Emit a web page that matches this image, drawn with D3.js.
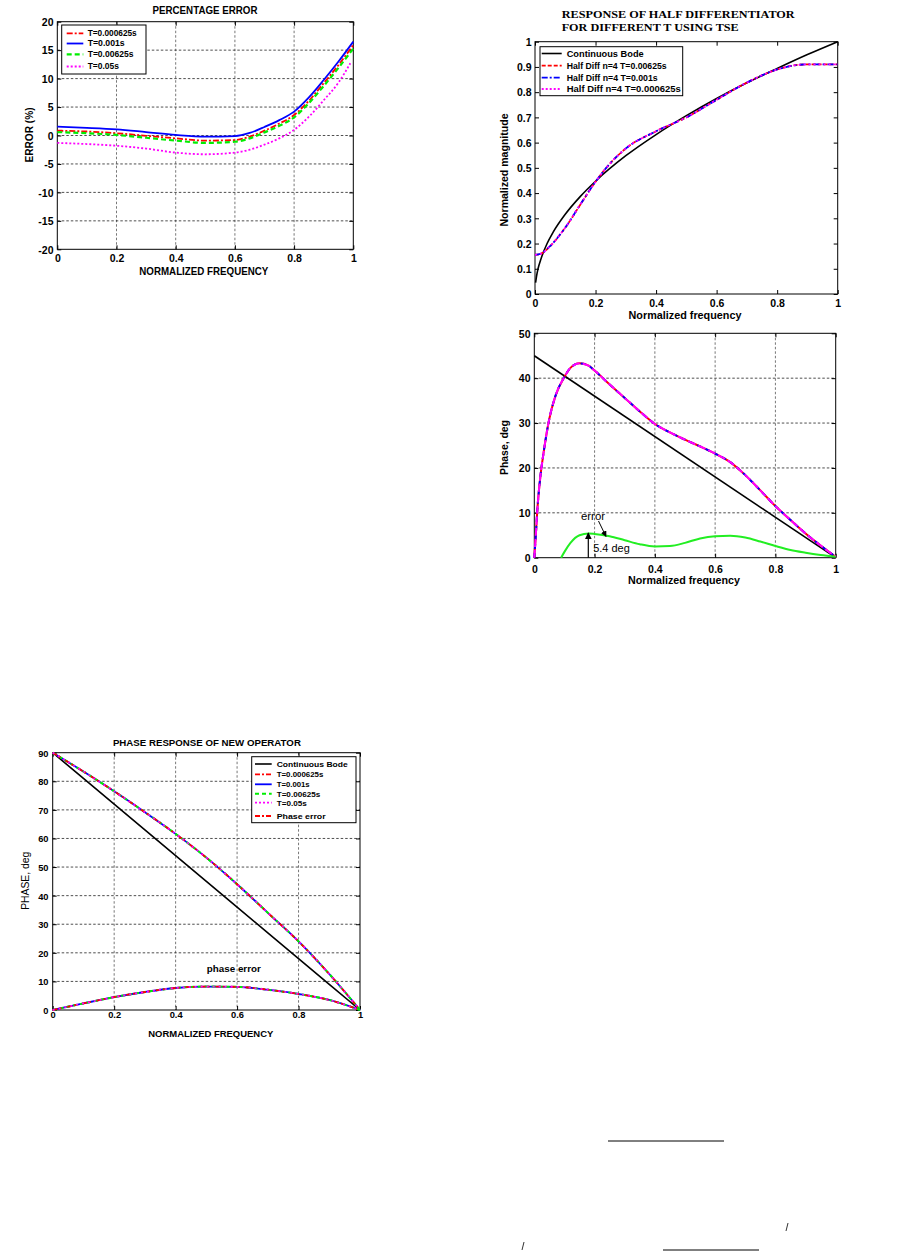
<!DOCTYPE html>
<html><head><meta charset="utf-8">
<script src="https://cdn.jsdelivr.net/npm/d3@7"></script>
<style>body{margin:0;background:#fff}svg{display:block}</style>
</head><body>
<script>
// ---------- DATA ----------
// Chart 1: percentage error
const errFreq = [0,0.1,0.2,0.3,0.4,0.5,0.6,0.65,0.7,0.75,0.8,0.85,0.9,0.95,1.0];
const errT000625 = [0.85,0.7,0.4,-0.05,-0.5,-0.9,-0.8,-0.2,0.85,2.1,3.6,6.1,9.2,12.4,15.9];
const errT001 = [1.55,1.35,1.08,0.6,0.1,-0.2,-0.1,0.45,1.5,2.7,4.2,6.7,9.75,13.0,16.5];
const errT00625 = [0.6,0.4,0.1,-0.4,-0.9,-1.3,-1.1,-0.5,0.55,1.7,3.2,5.7,8.7,11.9,15.3];
const errFreq05 = [0,0.1,0.2,0.3,0.4,0.5,0.6,0.65,0.7,0.75,0.8,0.85,0.9,0.95,0.99];
const errT05 = [-1.3,-1.5,-1.8,-2.3,-3.0,-3.3,-3.0,-2.5,-1.6,-0.5,1.0,3.3,6.2,9.3,12.7];
const errLegend = ["T=0.000625s","T=0.001s","T=0.00625s","T=0.05s"];
const errYTicks = [-20,-15,-10,-5,0,5,10,15,20];
const freqTicks = [0,0.2,0.4,0.6,0.8,1];

// Chart 2: magnitude response
const bodeMagFreq = [0.002,0.005,0.01,0.02,0.04,0.06,0.1,0.15,0.2,0.3,0.4,0.5,0.6,0.7,0.8,0.9,1.0];
const bodeMag = [0.045,0.07,0.1,0.14,0.2,0.245,0.316,0.387,0.447,0.548,0.632,0.707,0.775,0.837,0.894,0.949,1.0];
const halfMagFreq = [0,0.02,0.05,0.1,0.15,0.2,0.25,0.3,0.4,0.5,0.6,0.7,0.8,0.85,0.9,1.0];
const halfMag = [0.155,0.16,0.19,0.263,0.355,0.445,0.52,0.577,0.645,0.70,0.77,0.838,0.89,0.905,0.91,0.91];
const magLegend = ["Continuous Bode","Half Diff n=4 T=0.00625s","Half Diff n=4 T=0.001s","Half Diff n=4 T=0.000625s"];
const magYTicks = [0,0.1,0.2,0.3,0.4,0.5,0.6,0.7,0.8,0.9,1];

// Chart 3: phase of half differentiator
const bodePhaseFreq = [0,1];
const bodePhase = [45,0];
const halfPhaseFreq = [0,0.005,0.01,0.02,0.03,0.05,0.07,0.1,0.12,0.15,0.18,0.2,0.25,0.3,0.35,0.4,0.45,0.5,0.55,0.6,0.65,0.7,0.75,0.8,0.85,0.9,0.95,1.0];
const halfPhase = [0,5,10.6,18,23,31,36,40.3,42.3,43.3,42.8,41.7,38.6,35.6,32.6,29.8,27.9,26.3,24.8,23.2,21.3,18.4,15.0,11.5,8.4,5.4,2.7,0.2];
const phErrFreq = [0.089,0.1,0.12,0.15,0.18,0.2,0.25,0.3,0.35,0.4,0.45,0.5,0.55,0.6,0.65,0.7,0.75,0.8,0.85,0.9,0.95,1.0];
const phErr = [0,1.3,3.3,5.0,5.4,5.3,4.8,3.9,3.0,2.5,2.6,3.3,4.3,4.8,4.9,4.5,3.6,2.6,1.7,1.1,0.6,0.2];
const phYTicks = [0,10,20,30,40,50];

// Chart 4: phase of new operator
const opFreq = [0,0.1,0.2,0.3,0.4,0.5,0.6,0.7,0.8,0.9,1.0];
const opBode = [90,81,72,63,54,45,36,27,18,9,0];
const opApprox = [90,83.4,76.5,69.2,61.6,53.3,44,34,24,12.6,0];
const opError = [0,2.3,4.5,6.3,7.7,8.2,8.1,7.1,5.6,3.5,0];
const opLegend = ["Continuous Bode","T=0.000625s","T=0.001s","T=0.00625s","T=0.05s","Phase error"];
const opYTicks = [0,10,20,30,40,50,60,70,80,90];

// ---------- DRAWING ----------
const SANS = "'Liberation Sans', Arial, sans-serif";
const SERIF = "'Liberation Serif', 'Times New Roman', serif";
const svg = d3.select("body").append("svg").attr("width",906).attr("height",1251);
svg.append("rect").attr("width",906).attr("height",1251).attr("fill","#fff");

const RED="#ff0000", BLUE="#0000ff", GREEN="#00ee00", MAG="#ff00ff";

function panel(o){
  const g = svg.append("g");
  const x = d3.scaleLinear().domain([0,1]).range([o.l,o.r]);
  const y = d3.scaleLinear().domain(o.yDom).range([o.b,o.t]);
  if (o.grid){
    o.xTicks.slice(1,-1).forEach(v=>g.append("line").attr("x1",x(v)).attr("x2",x(v)).attr("y1",o.t).attr("y2",o.b)
      .attr("stroke","#555").attr("stroke-width",0.8).attr("stroke-dasharray","2.5,2"));
    o.yTicks.slice(1,-1).forEach(v=>g.append("line").attr("x1",o.l).attr("x2",o.r).attr("y1",y(v)).attr("y2",y(v))
      .attr("stroke","#222").attr("stroke-width",0.8).attr("stroke-dasharray","2.5,2"));
  }
  const fmt = d=>String(d);
  const gb = g.append("g").attr("transform",`translate(0,${o.b})`).call(d3.axisBottom(x).tickValues(o.xTicks).tickSize(-4).tickFormat(fmt));
  gb.selectAll("text").attr("y",o.xTickY-o.b).attr("dy",0);
  const gt = g.append("g").attr("transform",`translate(0,${o.t})`).call(d3.axisTop(x).tickValues(o.xTicks).tickSize(-4).tickFormat(""));
  const gl = g.append("g").attr("transform",`translate(${o.l},0)`).call(d3.axisLeft(y).tickValues(o.yTicks).tickSize(-4).tickFormat(fmt));
  gl.selectAll("text").attr("x",o.yTickX-o.l).attr("dy","0.36em");
  const gr = g.append("g").attr("transform",`translate(${o.r},0)`).call(d3.axisRight(y).tickValues(o.yTicks).tickSize(-4).tickFormat(""));
  [gb,gt,gl,gr].forEach(a=>{a.select(".domain").remove();
    a.attr("font-family",SANS).attr("font-size",o.tickFs).attr("font-weight","bold");
    a.selectAll("line").attr("stroke","#000");});
  g.append("rect").attr("x",o.l).attr("y",o.t).attr("width",o.r-o.l).attr("height",o.b-o.t)
    .attr("fill","none").attr("stroke","#000").attr("stroke-width",1);
  return {g,x,y};
}
function curve(p, xs, ys, color, dash, w, c){
  const pts = xs.map((v,i)=>[v,ys[i]]);
  p.g.append("path").datum(pts)
    .attr("d", d3.line().x(d=>p.x(d[0])).y(d=>p.y(d[1])).curve(c||d3.curveMonotoneX))
    .attr("fill","none").attr("stroke",color).attr("stroke-width",w||1.8)
    .attr("stroke-dasharray",dash||null).attr("stroke-linejoin","round");
}
function label(txt, x, y, fs, len, opts={}){
  const t = svg.append("text").attr("x",x).attr("y",y).text(txt)
    .attr("font-family",opts.family||SANS).attr("font-size",fs)
    .attr("font-weight",opts.weight||"bold").attr("text-anchor",opts.anchor||"middle").attr("fill","#000");
  if (len) t.attr("textLength",len).attr("lengthAdjust","spacingAndGlyphs");
  if (opts.rotate) t.attr("transform",`rotate(-90,${x},${y})`);
  return t;
}
function legend(box, rows, styles, lx1, lx2, tx, fs, lens){
  svg.append("rect").attr("x",box[0]).attr("y",box[1]).attr("width",box[2]-box[0]).attr("height",box[3]-box[1])
    .attr("fill","#fff").attr("stroke","#000").attr("stroke-width",1);
  rows.forEach((r,i)=>{
    const s = styles[i];
    svg.append("line").attr("x1",lx1).attr("x2",lx2).attr("y1",r.y).attr("y2",r.y)
      .attr("stroke",s.c).attr("stroke-width",s.w||1.8).attr("stroke-dasharray",s.d||null);
    const t = svg.append("text").attr("x",tx).attr("y",r.y+fs*0.36).text(r.t)
      .attr("font-family",SANS).attr("font-size",fs).attr("font-weight","bold");
    if (lens && lens[i]) t.attr("textLength",lens[i]).attr("lengthAdjust","spacingAndGlyphs");
  });
}

// ----- Chart 1 -----
const p1 = panel({l:57.3,r:353.3,t:21.7,b:249.3,yDom:[-20,20],xTicks:freqTicks,yTicks:errYTicks,grid:true,
  xTickY:262.5,yTickX:53.5,tickFs:10.5});
const s1 = [{c:RED,d:"6,2,2,2"},{c:BLUE,d:null},{c:GREEN,d:"5,3",w:2.2},{c:MAG,d:"2,2"}];
curve(p1, errFreq, errT001, s1[1].c, s1[1].d, 1.8);
curve(p1, errFreq, errT000625, s1[0].c, s1[0].d, 1.8);
curve(p1, errFreq, errT00625, s1[2].c, s1[2].d, 2.2);
curve(p1, errFreq05, errT05, s1[3].c, s1[3].d, 1.8);
label("PERCENTAGE ERROR", 205, 14, 10, 105);
label("NORMALIZED FREQUENCY", 203.8, 275, 10, 129);
label("ERROR (%)", 33, 135, 10, 55, {rotate:true});
legend([61.7,25,146,74], errLegend.map((t,i)=>({t,y:[33.3,43.5,54.3,66.5][i]})), s1, 66.7, 83.3, 87.7, 8.3, [49,37,45.7,31.3]);

// ----- Chart 2 -----
const p2 = panel({l:535,r:837.7,t:41.7,b:294,yDom:[0,1],xTicks:freqTicks,yTicks:magYTicks,grid:false,
  xTickY:306.5,yTickX:531.5,tickFs:10.5});
const s2 = [{c:"#000",d:null,w:1.6},{c:RED,d:"4,2"},{c:BLUE,d:"6,2,2,2"},{c:MAG,d:"2,2"}];
curve(p2, bodeMagFreq, bodeMag, "#000", null, 1.6);
curve(p2, halfMagFreq, halfMag, RED, "4,2", 1.8);
curve(p2, halfMagFreq, halfMag, BLUE, "6,3,2,3", 1.8);
curve(p2, halfMagFreq, halfMag, MAG, "2,3", 1.8);
label("RESPONSE OF HALF DIFFERENTIATOR", 561.7, 18.3, 11, 233, {family:SERIF, anchor:"start"});
label("FOR DIFFERENT T USING TSE", 561.7, 31, 11, 177, {family:SERIF, anchor:"start"});
label("Normalized frequency", 685, 319, 10, 113);
label("Normalized magnitude", 508, 170, 10, 113, {rotate:true});
legend([540,46.7,682.7,95.7], magLegend.map((t,i)=>({t,y:[53.5,65.7,77.7,89][i]})), s2, 541.7, 561.7, 566.7, 8.5, [77,100,91,114]);

// ----- Chart 3 -----
const p3 = panel({l:534.3,r:835.7,t:333.3,b:557.7,yDom:[0,50],xTicks:freqTicks,yTicks:phYTicks,grid:true,
  xTickY:573,yTickX:530.5,tickFs:10.5});
curve(p3, bodePhaseFreq, bodePhase, "#000", null, 1.6, d3.curveLinear);
curve(p3, halfPhaseFreq, halfPhase, RED, null, 2);
curve(p3, halfPhaseFreq, halfPhase, BLUE, "5,4", 2);
curve(p3, halfPhaseFreq, halfPhase, MAG, "8,3", 2);
curve(p3, phErrFreq, phErr, "#22ee22", null, 2);
label("Normalized frequency", 684, 584, 10, 112);
label("Phase, deg", 508, 447.5, 10, 55, {rotate:true});
label("error", 593, 519.5, 10, 24, {weight:"normal", family:SANS});
label("5.4 deg", 611.5, 552, 10.5, 36.5, {weight:"normal"});
const defs = svg.append("defs");
defs.append("marker").attr("id","ah").attr("viewBox","0 0 10 10").attr("refX",9).attr("refY",5)
  .attr("markerWidth",6).attr("markerHeight",6).attr("orient","auto")
  .append("path").attr("d","M0,0 L10,5 L0,10 Z").attr("fill","#000");
svg.append("line").attr("x1",598.5).attr("y1",521).attr("x2",606).attr("y2",536.5)
  .attr("stroke","#000").attr("stroke-width",1).attr("marker-end","url(#ah)");
svg.append("line").attr("x1",588.3).attr("y1",557.7).attr("x2",588.3).attr("y2",533)
  .attr("stroke","#000").attr("stroke-width",1.2).attr("marker-end","url(#ah)");

// ----- Chart 4 -----
const p4 = panel({l:52.7,r:360,t:752.7,b:1010,yDom:[0,90],xTicks:freqTicks,yTicks:opYTicks,grid:true,
  xTickY:1017.5,yTickX:48.5,tickFs:9.3});
const s4 = [{c:"#000",d:null,w:1.6},{c:RED,d:"5,2,2,2"},{c:BLUE,d:null},{c:GREEN,d:"4,3",w:2},{c:MAG,d:"2,2"},{c:RED,d:"5,2,2,2"}];
curve(p4, opFreq, opBode, "#000", null, 1.6, d3.curveLinear);
[opApprox, opError].forEach(arr=>{
  curve(p4, opFreq, arr, BLUE, null, 1.8);
  curve(p4, opFreq, arr, GREEN, "4,3", 2);
  curve(p4, opFreq, arr, RED, "5,2,2,6", 1.8);
  curve(p4, opFreq, arr, MAG, "2,4", 1.8);
});
label("PHASE RESPONSE OF NEW OPERATOR", 206.9, 745.7, 9.5, 188);
label("NORMALIZED FREQUENCY", 210.8, 1036.7, 9.5, 125);
label("PHASE, deg", 29.5, 880.8, 10, 58, {rotate:true, weight:"normal"});
label("phase error", 233.8, 971.7, 9.5, 54);
legend([251.7,756.7,356,822.7], opLegend.map((t,i)=>({t,y:[764,774.3,784.3,793.7,802.7,816][i]})), s4, 255, 271.7, 276.7, 8, [71,46.7,33,43.5,30,49]);

// ----- page fragments below -----
[[608,1141,724,1141],[663,1250,759,1250]].forEach(a=>svg.append("line").attr("x1",a[0]).attr("y1",a[1]).attr("x2",a[2]).attr("y2",a[3]).attr("stroke","#000").attr("stroke-width",1));
[[786,1231,788,1223],[522,1250,524,1242]].forEach(a=>svg.append("line").attr("x1",a[0]).attr("y1",a[1]).attr("x2",a[2]).attr("y2",a[3]).attr("stroke","#000").attr("stroke-width",0.8));
</script>
</body></html>
